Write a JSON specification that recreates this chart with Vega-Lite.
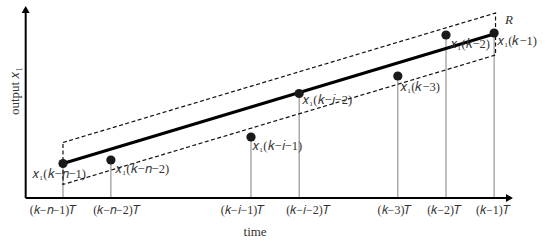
{
  "$schema": "https://vega.github.io/schema/vega-lite/v6.json",
  "width": 550,
  "height": 245,
  "autosize": {"type": "none"},
  "padding": 0,
  "background": "white",
  "config": {"view": {"stroke": null}},
  "datasets": {
    "samples": [
      {"t": 1, "v": 3.45},
      {"t": 2.0, "v": 3.8},
      {"t": 4.925, "v": 6.1},
      {"t": 5.93, "v": 10.45},
      {"t": 7.99, "v": 12.2},
      {"t": 8.996, "v": 16.3},
      {"t": 10.0, "v": 16.5}
    ],
    "ticklabels": [
      {"t": 0.802, "v": -1.2, "text": "(𝑘−𝑛−1)𝑇"},
      {"t": 2.127, "v": -1.2, "text": "(𝑘−𝑛−2)𝑇"},
      {"t": 4.758, "v": -1.2, "text": "(𝑘−𝑖−1)𝑇"},
      {"t": 6.125, "v": -1.2, "text": "(𝑘−𝑖−2)𝑇"},
      {"t": 7.931, "v": -1.2, "text": "(𝑘−3)𝑇"},
      {"t": 8.965, "v": -1.2, "text": "(𝑘−2)𝑇"},
      {"t": 9.987, "v": -1.2, "text": "(𝑘−1)𝑇"}
    ],
    "labels": [
      {"t": 0.353, "v": 2.4, "text": "𝑥₁(𝑘−𝑛−1)"},
      {"t": 2.086, "v": 2.9, "text": "𝑥₁(𝑘−𝑛−2)"},
      {"t": 4.946, "v": 5.2, "text": "𝑥₁(𝑘−𝑖−1)"},
      {"t": 5.99, "v": 9.8, "text": "𝑥₁(𝑘−𝑖−2)"},
      {"t": 8.035, "v": 11.1, "text": "𝑥₁(𝑘−3)"},
      {"t": 9.08, "v": 15.4, "text": "𝑥₁(𝑘−2)"},
      {"t": 10.06, "v": 15.7, "text": "𝑥₁(𝑘−1)"}
    ],
    "mainline": [
      {"t": 1, "v": 3.45},
      {"t": 10, "v": 16.4}
    ],
    "band": [
      {"t": 1, "v": 5.55, "o": 1},
      {"t": 10.03, "v": 18.5, "o": 2},
      {"t": 10.03, "v": 14.3, "o": 3},
      {"t": 1, "v": 1.35, "o": 4},
      {"t": 1, "v": 5.55, "o": 5}
    ],
    "axes": [
      {"t": 0.221, "v": 0, "t2": 10.25, "v2": 0},
      {"t": 0.221, "v": 0, "t2": 0.221, "v2": 18.6}
    ],
    "arrows": [
      {"t": 0.221, "v": 18.85, "shape": "triangle-up"},
      {"t": 10.32, "v": 0, "shape": "triangle-right"}
    ]
  },
  "encoding": {
    "x": {"field": "t", "type": "quantitative", "scale": {"domain": [-0.315, 11.167], "nice": false, "zero": false}, "axis": null},
    "y": {"field": "v", "type": "quantitative", "scale": {"domain": [-4.7, 19.8], "nice": false, "zero": false}, "axis": null}
  },
  "layer": [
    {
      "data": {"name": "samples"},
      "mark": {"type": "rule", "color": "#808080", "strokeWidth": 1},
      "encoding": {"y2": {"datum": 0}}
    },
    {
      "data": {"name": "band"},
      "mark": {"type": "line", "color": "#111", "strokeWidth": 1.2, "strokeDash": [4, 2.5]},
      "encoding": {"order": {"field": "o", "type": "quantitative"}}
    },
    {
      "data": {"name": "mainline"},
      "mark": {"type": "line", "color": "#000", "strokeWidth": 3},
      "encoding": {}
    },
    {
      "data": {"name": "axes"},
      "mark": {"type": "rule", "color": "#000", "strokeWidth": 2},
      "encoding": {
        "x2": {"field": "t2"},
        "y2": {"field": "v2"}
      }
    },
    {
      "data": {"name": "arrows"},
      "mark": {"type": "point", "filled": true, "color": "#000", "size": 64, "opacity": 1},
      "encoding": {"shape": {"field": "shape", "type": "nominal", "scale": null}}
    },
    {
      "data": {"name": "samples"},
      "mark": {"type": "circle", "color": "#1a1a1a", "size": 85, "opacity": 1}
    },
    {
      "data": {"name": "ticklabels"},
      "mark": {"type": "text", "font": "Liberation Serif", "fontSize": 12, "color": "#333", "align": "center", "baseline": "middle"},
      "encoding": {"text": {"field": "text"}}
    },
    {
      "data": {"name": "labels"},
      "mark": {"type": "text", "font": "Liberation Serif", "fontSize": 12.5, "color": "#333", "align": "left", "baseline": "middle"},
      "encoding": {"text": {"field": "text"}}
    },
    {
      "data": {"values": [{"t": 5.01, "v": -3.4, "text": "time"}]},
      "mark": {"type": "text", "font": "Liberation Serif", "fontSize": 13, "color": "#333", "align": "center", "baseline": "middle"},
      "encoding": {"text": {"field": "text"}}
    },
    {
      "data": {"values": [{"t": 0.0, "v": 10.7, "text": "output 𝑥₁"}]},
      "mark": {"type": "text", "font": "Liberation Serif", "fontSize": 13, "color": "#333", "align": "center", "baseline": "middle", "angle": 270},
      "encoding": {"text": {"field": "text"}}
    },
    {
      "data": {"values": [{"t": 10.23, "v": 17.8, "text": "R"}]},
      "mark": {"type": "text", "font": "Liberation Serif", "fontSize": 13, "fontStyle": "italic", "color": "#333", "align": "left", "baseline": "middle"},
      "encoding": {"text": {"field": "text"}}
    }
  ]
}
